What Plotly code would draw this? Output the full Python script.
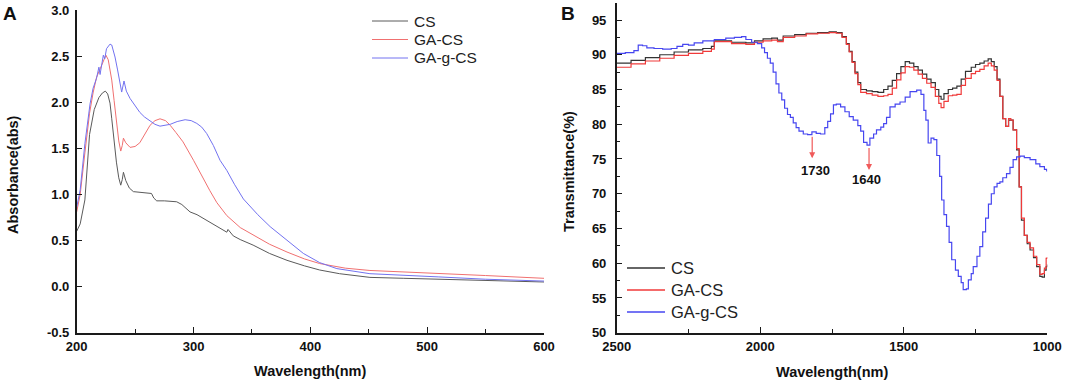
import plotly.graph_objects as go

# ---------------- Panel A : UV-Vis absorbance ----------------
uv_cs_x = [200, 203, 207, 211, 215, 219, 222, 224.5, 226.5, 228.5, 230, 231.5, 234, 236, 237.7, 239, 240,
           242, 245, 248.5, 255, 264, 266, 268.5, 275, 285.6, 290, 294, 297, 303, 308.4, 315, 320, 328.5,
           329.5, 331, 334, 340, 351, 365, 380, 395, 408, 425, 451, 480, 510, 550, 600]
uv_cs_y = [0.60, 0.68, 0.94, 1.65, 1.92, 2.05, 2.10, 2.12, 2.09, 1.99, 1.82, 1.62, 1.35, 1.18, 1.10, 1.16, 1.24,
           1.15, 1.07, 1.03, 1.02, 1.01, 0.96, 0.93, 0.93, 0.92, 0.89, 0.85, 0.81, 0.78, 0.74, 0.69, 0.66, 0.59,
           0.62, 0.60, 0.55, 0.51, 0.45, 0.36, 0.285, 0.225, 0.18, 0.14, 0.10, 0.09, 0.08, 0.065, 0.05]

uv_gacs_x = [200, 203, 207, 211, 214, 217, 220, 223, 225, 227, 230, 232, 234, 236, 237.7, 239, 240, 242, 245.7,
             250, 254, 258, 262.8, 267, 271.3, 276, 280, 285, 291, 300, 307, 314, 320, 328.5, 340, 351, 365,
             380, 395, 408, 430, 451, 480, 510, 550, 600]
uv_gacs_y = [0.81, 1.00, 1.45, 1.88, 2.10, 2.27, 2.36, 2.45, 2.51, 2.46, 2.24, 2.02, 1.80, 1.58, 1.47, 1.53, 1.61,
             1.56, 1.51, 1.52, 1.56, 1.64, 1.75, 1.80, 1.82, 1.80, 1.75, 1.67, 1.57, 1.37, 1.20, 1.04, 0.91, 0.77,
             0.64, 0.56, 0.46, 0.375, 0.30, 0.25, 0.20, 0.175, 0.16, 0.145, 0.12, 0.09]

uv_gagcs_x = [200, 203, 207, 211.4, 214, 217, 219, 220, 222.8, 224, 225.5, 228.5, 230, 232.8, 235, 237, 238.5,
              240.5, 242.5, 245.7, 250, 254, 258, 262.8, 267, 271.3, 276, 280, 286, 292.8, 298, 302.8, 307,
              311.3, 317, 322.7, 328.5, 335, 342.7, 355, 365.6, 380, 394, 408, 422.7, 451, 480, 510, 550, 600]
uv_gagcs_y = [0.86, 1.05, 1.55, 1.98, 2.15, 2.26, 2.38, 2.30, 2.51, 2.47, 2.58, 2.63, 2.62, 2.49, 2.35, 2.20, 2.11,
              2.23, 2.12, 2.04, 1.96, 1.89, 1.84, 1.80, 1.76, 1.74, 1.75, 1.76, 1.79, 1.81, 1.80, 1.77, 1.73,
              1.66, 1.53, 1.37, 1.26, 1.11, 0.95, 0.78, 0.65, 0.50, 0.36, 0.26, 0.195, 0.14, 0.12, 0.105, 0.08, 0.06]

uv_x_ticks = [200, 300, 400, 500, 600]
uv_y_ticks = [-0.5, 0.0, 0.5, 1.0, 1.5, 2.0, 2.5, 3.0]
uv_y_ticktext = ["-0.5", "0.0", "0.5", "1.0", "1.5", "2.0", "2.5", "3.0"]

# ---------------- Panel B : FTIR transmittance ----------------
ir_x = [2500, 2450, 2400, 2350, 2300, 2250, 2200, 2170, 2160, 2100, 2050, 2020, 1990, 1960, 1940, 1920, 1880,
        1840, 1800, 1760, 1735, 1715, 1700, 1690, 1680, 1670, 1660, 1650, 1630, 1610, 1590, 1570, 1555, 1540,
        1525, 1510, 1495, 1480, 1465, 1450, 1435, 1420, 1405, 1390, 1378, 1370, 1360, 1345, 1330, 1315, 1300,
        1285, 1265, 1250, 1235, 1220, 1206, 1195, 1185, 1175, 1165, 1155, 1145, 1135, 1127, 1119, 1107, 1098,
        1090, 1080, 1070, 1060, 1048, 1037, 1026, 1018, 1010, 1004, 1000]
ir_cs = [88.8, 89.2, 89.6, 90.0, 90.4, 90.7, 90.9, 91.2, 92.0, 91.8, 91.7, 92.0, 92.3, 92.4, 92.1, 92.7, 92.9,
         93.1, 93.2, 93.3, 93.2, 92.6, 91.6, 90.5, 89.0, 87.5, 86.0, 85.0, 84.8, 84.7, 84.6, 85.0, 85.5, 86.3,
         87.3, 88.3, 89.0, 88.8, 88.3, 87.8, 87.2, 86.5, 86.0, 85.0, 84.0, 83.6, 84.4, 85.0, 85.2, 85.5, 86.5,
         87.6, 88.2, 88.6, 88.8, 89.1, 89.4, 89.0, 88.3, 86.5, 84.0, 80.8, 79.7, 80.6, 80.6, 79.2, 76.3, 71.0,
         66.2, 64.0, 62.8, 61.9, 60.8, 59.5, 58.1, 58.0, 59.0, 59.5, 59.8]
ir_gacs = [88.2, 88.7, 89.1, 89.5, 89.9, 90.2, 90.5, 90.8, 91.9, 91.6, 91.5, 91.8, 92.0, 92.1, 91.9, 92.5, 92.7,
           93.0, 93.1, 93.2, 93.1, 92.5, 91.5, 90.4, 88.9, 87.3, 85.7, 84.6, 84.4, 84.2, 84.0, 84.1, 84.3, 85.2,
           86.4, 87.4, 88.3, 88.2, 87.8, 87.2, 86.6, 85.9, 85.3, 84.0, 83.0, 82.4, 83.3, 84.1, 84.2, 84.3, 85.6,
           86.6, 87.3, 87.6, 87.9, 88.4, 88.8, 88.4, 87.8, 86.3, 84.0, 80.8, 79.7, 80.8, 80.6, 79.2, 76.5, 71.0,
           66.5, 64.0, 63.0, 62.2, 61.0, 59.8, 58.4, 58.5, 59.3, 60.7, 60.9]

ir_gagcs_x = [2500, 2470, 2440, 2425, 2410, 2395, 2370, 2340, 2310, 2290, 2270, 2250, 2230, 2200, 2160, 2120,
              2090, 2065, 2050, 2030, 2010, 1995, 1985, 1975, 1965, 1955, 1945, 1935, 1925, 1915, 1905, 1895,
              1885, 1875, 1865, 1850, 1835, 1820, 1805, 1790, 1775, 1765, 1755, 1745, 1735, 1720, 1705, 1690,
              1676, 1660, 1650, 1640, 1628, 1618, 1605, 1595, 1580, 1570, 1560, 1548, 1530, 1513, 1495, 1478,
              1455, 1440, 1430, 1423, 1415, 1405, 1395, 1385, 1375, 1368, 1360, 1351, 1342, 1333, 1320, 1310,
              1300, 1293, 1282, 1275, 1265, 1258, 1245, 1235, 1225, 1215, 1205, 1195, 1185, 1175, 1165, 1155,
              1142, 1130, 1119, 1107, 1095, 1080, 1060, 1040, 1026, 1010, 1002]
ir_gagcs = [90.2, 90.3, 90.6, 91.4, 91.3, 91.0, 90.9, 90.8, 90.9, 91.2, 91.5, 91.4, 91.7, 92.0, 92.2, 92.4,
            92.5, 92.6, 92.2, 91.8, 91.6, 91.0, 90.3, 89.5, 88.8, 87.5, 85.8, 84.5, 83.5, 82.3, 81.4, 81.0,
            80.2, 79.5, 79.0, 78.6, 78.5, 78.9, 78.7, 78.6, 79.5, 80.4, 81.5, 82.8, 82.9, 82.5, 81.8, 81.1,
            80.6, 79.8, 79.0, 77.4, 77.0, 78.0, 78.6, 79.2, 79.6, 80.1, 81.0, 82.5, 82.9, 83.2, 83.9, 84.7,
            84.9, 84.3, 82.0, 80.6, 77.3, 78.0, 77.8, 75.5, 72.5, 69.1, 67.0, 65.3, 63.0, 60.5, 59.0, 58.1,
            57.2, 56.2, 56.3, 57.6, 58.5, 59.5, 61.0, 62.4, 64.5, 66.5, 68.5, 70.0, 71.0, 71.5, 71.7, 72.3,
            72.9, 73.8, 74.9, 75.3, 75.4, 75.2, 74.9, 74.3, 73.9, 73.5, 73.2]

ir_x_ticks = [2500, 2000, 1500, 1000]
ir_y_ticks = [50, 55, 60, 65, 70, 75, 80, 85, 90, 95]

peak_labels = ["1730", "1640"]
peak_arrow_x = [1819, 1621]
peak_arrow_top = [78.4, 76.8]
peak_arrow_bottom = [75.1, 73.4]
peak_label_x = [1809, 1629]
peak_label_y = [73.4, 72.0]

series_names = ["CS", "GA-CS", "GA-g-CS"]
colors_a = ["#5a5a5a", "#f07070", "#7272f0"]
colors_b = ["#333333", "#f03a3a", "#4646f0"]

FONT = "Liberation Sans, Arial, Helvetica, sans-serif"
AXC = "#1a1a1a"
W, H = 1065, 383


def X(px):
    return px / W


def Y(py):
    return 1 - py / H


fig = go.Figure()

# Panel A traces
for xs, ys, name, col in zip([uv_cs_x, uv_gacs_x, uv_gagcs_x], [uv_cs_y, uv_gacs_y, uv_gagcs_y],
                             series_names, colors_a):
    fig.add_trace(go.Scatter(x=xs, y=ys, name=name, mode="lines", showlegend=False,
                             line=dict(color=col, width=1), xaxis="x", yaxis="y"))

# Panel B traces
for xs, ys, name, col in zip([ir_x, ir_x, ir_gagcs_x], [ir_cs, ir_gacs, ir_gagcs], series_names, colors_b):
    fig.add_trace(go.Scatter(x=xs, y=ys, name=name, mode="lines", showlegend=False,
                             line=dict(color=col, width=1.2, shape="hv"), xaxis="x2", yaxis="y2"))

tickfont = dict(family=FONT, size=13, color="#111", weight="bold")
common = dict(showgrid=False, zeroline=False, showline=True, linecolor=AXC, linewidth=1.5,
              ticks="inside", ticklen=6, tickwidth=1.3, tickcolor=AXC, tickfont=tickfont, mirror=False,
              automargin=False, ticklabeloverflow="allow")

fig.update_layout(
    width=W, height=H,
    margin=dict(l=0, r=0, t=0, b=0, autoexpand=False),
    paper_bgcolor="white", plot_bgcolor="white",
    showlegend=False,
    xaxis=dict(domain=[X(76.7), X(544)], range=[200, 600], tickvals=uv_x_ticks, anchor="y",
               minor=dict(ticks="inside", ticklen=4, dtick=50, tick0=200, tickcolor=AXC, tickwidth=1.2),
               ticklabelstandoff=1, **common),
    yaxis=dict(domain=[Y(332.7), Y(10)], range=[-0.5, 3.0], tickvals=uv_y_ticks, ticktext=uv_y_ticktext,
               anchor="x", ticklabelstandoff=3, **common),
    xaxis2=dict(domain=[X(616.7), X(1047.3)], range=[2500, 1000], tickvals=ir_x_ticks, anchor="y2",
                minor=dict(ticks="inside", ticklen=4, dtick=250, tick0=1000, tickcolor=AXC, tickwidth=1.2),
                ticklabelstandoff=1, **common),
    yaxis2=dict(domain=[Y(332.7), Y(3)], range=[50, 97.45], tickvals=ir_y_ticks, anchor="x2",
                minor=dict(ticks="inside", ticklen=4, dtick=2.5, tick0=50, tickcolor=AXC, tickwidth=1.2),
                ticklabelstandoff=6, **common),
)

ann = []
shapes = []


def paper_text(text, px, py, size, bold=True, angle=0, xanchor="center"):
    font = dict(family=FONT, size=size, color="#111")
    if bold:
        font["weight"] = "bold"
    ann.append(dict(text=text, x=X(px), y=Y(py), xref="paper", yref="paper", showarrow=False,
                    xanchor=xanchor, yanchor="middle", textangle=angle, font=font))


# panel letters
paper_text("A", 10, 14, 19)
paper_text("B", 568, 13.5, 19)
# axis titles
paper_text("Absorbance(abs)", 13, 175, 14.5, angle=-90)
paper_text("Wavelength(nm)", 310, 371, 14.5)
paper_text("Transmittance(%)", 569, 172, 14.5, angle=-90)
paper_text("Wavelength(nm)", 832, 372, 14.5)


# legends (drawn manually for exact placement)
def legend(x0, x1, tx, rows, fsize, cols, lw):
    for name, ry, col in zip(series_names, rows, cols):
        shapes.append(dict(type="line", xref="paper", yref="paper", x0=X(x0), x1=X(x1),
                           y0=Y(ry), y1=Y(ry), line=dict(color=col, width=lw)))
        ann.append(dict(text=name, x=X(tx), y=Y(ry), xref="paper", yref="paper", showarrow=False,
                        xanchor="left", yanchor="middle",
                        font=dict(family=FONT, size=fsize, color="#222")))


legend(372, 408, 412, [21, 39.5, 58], 15.5, colors_a, 1)
legend(627, 665, 669, [268, 290, 312], 16.5, colors_b, 1.3)

# peak arrows and labels
for lab, ax_, yt, yb, lx, ly in zip(peak_labels, peak_arrow_x, peak_arrow_top, peak_arrow_bottom,
                                    peak_label_x, peak_label_y):
    ann.append(dict(x=ax_, y=yb, ax=ax_, ay=yt, xref="x2", yref="y2", axref="x2", ayref="y2",
                    showarrow=True, arrowhead=2, arrowsize=1, arrowwidth=1.2, arrowcolor="#f05a5a", text=""))
    ann.append(dict(x=lx, y=ly, xref="x2", yref="y2", text=lab, showarrow=False,
                    xanchor="center", yanchor="middle",
                    font=dict(family=FONT, size=13, color="#111", weight="bold")))
fig.update_layout(annotations=ann, shapes=shapes)

# remove the browser's default 8px page margin so the figure fills the window exactly
fig.write_html("out.html", config={"displayModeBar": False},
               post_script="document.body.style.margin='0';document.body.style.overflow='hidden';")
